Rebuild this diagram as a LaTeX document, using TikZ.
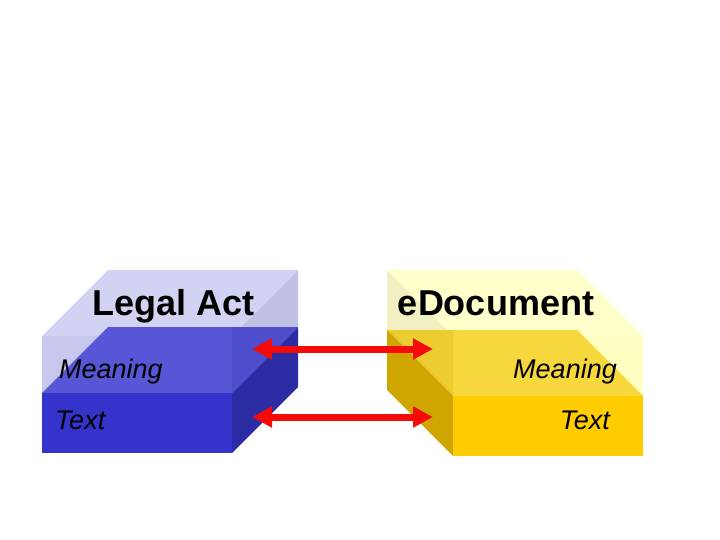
\documentclass[tikz,border=0pt]{standalone}
\usepackage{fontspec}
\setmainfont{Liberation Sans}
\usetikzlibrary{arrows.meta}
\definecolor{lavfront}{HTML}{C8C8EE}
\definecolor{lavtop}{HTML}{D2D2F2}
\definecolor{lavside}{HTML}{C0C0E4}
\definecolor{bluetopA}{HTML}{5656D6}
\definecolor{bluetopB}{HTML}{4E4ECC}
\definecolor{blueside}{HTML}{2C2CA4}
\definecolor{bluefront}{HTML}{3434CC}
\definecolor{ylfront}{HTML}{FFFFC2}
\definecolor{yltop}{HTML}{FFFFCC}
\definecolor{ylside}{HTML}{F2F0C2}
\definecolor{yeltopA}{HTML}{F7D83C}
\definecolor{yeltopB}{HTML}{EDCC30}
\definecolor{yelside}{HTML}{CFA600}
\definecolor{yelfront}{HTML}{FFCC00}
\definecolor{arrowred}{HTML}{F50A0A}
\tikzset{
  title/.style={font=\fontsize{36}{40}\selectfont\bfseries, inner sep=0pt},
  layertext/.style={font=\fontsize{27}{30}\selectfont\itshape, inner sep=0pt},
  link/.style={arrowred, line width=7pt, {Triangle[length=20pt,width=20pt]}-{Triangle[length=20pt,width=20pt]}}
}
\begin{document}
\begin{tikzpicture}[x=1pt,y=-1pt]
\useasboundingbox (0,0) rectangle (720,540);
\fill[white] (0,0) rectangle (720,540);
% ---------- left block (Legal Act) ----------
\fill[lavfront] (42,336) rectangle (232,393);
\fill[lavtop] (42,336) -- (232,336) -- (298,270) -- (108,270) -- cycle;
\fill[lavside] (232,336) -- (298,270) -- (298,327) -- (232,393) -- cycle;
\fill[bluetopA] (42,393) -- (232,393) -- (232,327) -- (108,327) -- cycle;
\fill[bluetopB] (232,393) -- (298,327) -- (232,327) -- cycle;
\fill[blueside] (232,393) -- (298,327) -- (298,387) -- (232,453) -- cycle;
\fill[bluefront] (42,393) rectangle (232,453);
% ---------- right block (eDocument) ----------
\fill[ylfront] (453,336) rectangle (643,396);
\fill[yltop] (453,336) -- (643,336) -- (577,270) -- (387,270) -- cycle;
\fill[ylside] (453,336) -- (387,270) -- (387,330) -- (453,396) -- cycle;
\fill[yeltopA] (453,396) -- (643,396) -- (577,330) -- (453,330) -- cycle;
\fill[yeltopB] (453,396) -- (387,330) -- (453,330) -- cycle;
\fill[yelside] (387,330) -- (453,396) -- (453,456) -- (387,390) -- cycle;
\fill[yelfront] (453,396) rectangle (643,456);
% ---------- texts ----------
\node[title, anchor=base] (legal) at (173.5,315) {Legal Act};
\node[title, anchor=base] (edoc) at (496,315) {eDocument};
\node[layertext, anchor=base west] (lmean) at (59,378) {Meaning};
\node[layertext, anchor=base west] (ltext) at (55,429) {Text};
\node[layertext, anchor=base east] (rmean) at (617,378) {Meaning};
\node[layertext, anchor=base east] (rtext) at (610,429) {Text};
% ---------- arrows ----------
\coordinate (lmA) at (252,349);
\coordinate (rmA) at (433,349);
\coordinate (ltA) at (252,417);
\coordinate (rtA) at (433,417);
\draw[link] (lmA) -- (rmA);
\draw[link] (ltA) -- (rtA);
\end{tikzpicture}
\end{document}
